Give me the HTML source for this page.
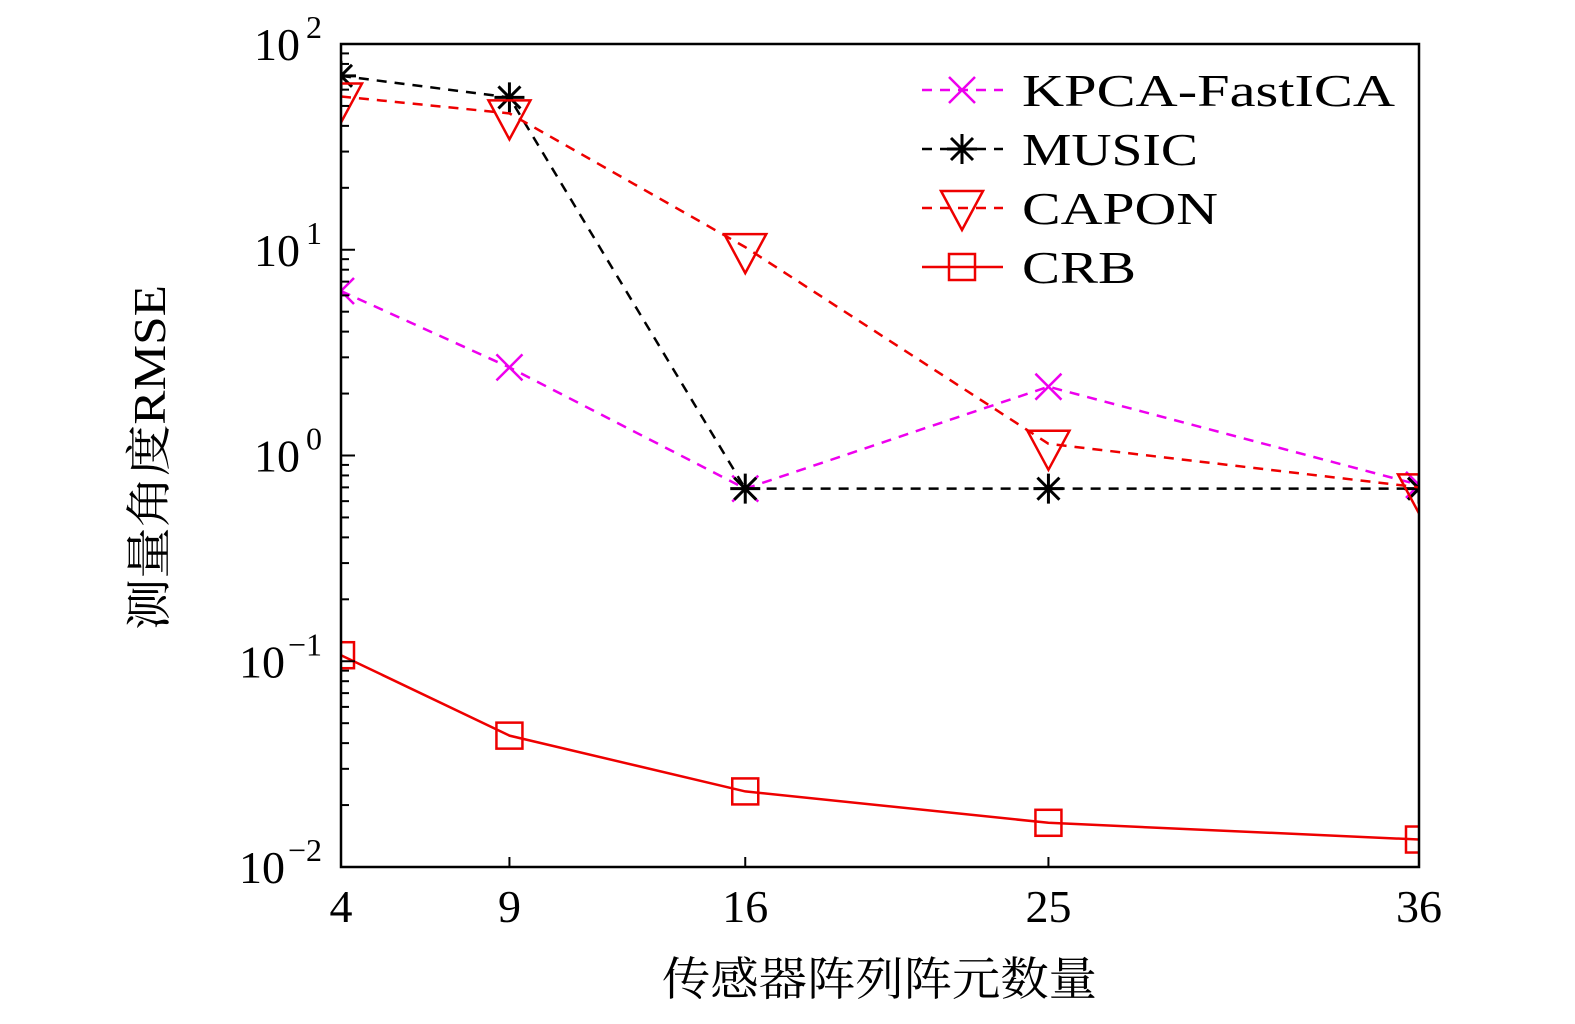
<!DOCTYPE html>
<html><head><meta charset="utf-8"><style>
html,body{margin:0;padding:0;background:#fff;}
svg{display:block;font-family:"Liberation Serif","Noto Serif CJK SC",serif;}
</style></head><body>
<svg id="chart" width="1575" height="1024" viewBox="0 0 1575 1024" xmlns="http://www.w3.org/2000/svg">
<defs><clipPath id="plotclip"><rect x="341" y="44" width="1078" height="823"/></clipPath></defs>
<g id="series" clip-path="url(#plotclip)"></g>
<rect x="341" y="44" width="1078" height="823" fill="none" stroke="#000" stroke-width="2.5"/>
<g id="axes"></g>
<text x="662" y="995" font-size="46" textLength="435" lengthAdjust="spacingAndGlyphs" font-family="Noto Serif CJK SC, serif">传感器阵列阵元数量</text>
<text transform="translate(165,630) rotate(-90)" font-size="46" textLength="345" lengthAdjust="spacingAndGlyphs"><tspan font-family="Noto Serif CJK SC, serif">测量角度</tspan>RMSE</text>
<g id="legend"></g>
</svg>
<script>
const categories = [4, 9, 16, 25, 36];
const kpcaValues = [6.3, 2.68, 0.69, 2.16, 0.72];
const musicValues = [70, 55, 0.69, 0.69, 0.69];
const caponValues = [55.6, 46, 10.3, 1.14, 0.70];
const crbValues = [0.107, 0.0435, 0.0233, 0.0164, 0.0136];
const yTickExps = [-2, -1, 0, 1, 2];
const seriesNames = ["KPCA-FastICA", "MUSIC", "CAPON", "CRB"];
const legendWidths = [373, 176, 196, 114];

const NS = "http://www.w3.org/2000/svg";
const L = 341, R = 1419, T = 44, B = 867;
const xMin = 4, xMax = 36, yMinE = -2, yMaxE = 2;
function xs(v){ return L + (v - xMin) / (xMax - xMin) * (R - L); }
function ys(v){ return B - (Math.log10(v) - yMinE) / (yMaxE - yMinE) * (B - T); }
function mk(tag, attrs, parent){ const e = document.createElementNS(NS, tag); for (const k in attrs) e.setAttribute(k, attrs[k]); parent.appendChild(e); return e; }

const axes = document.getElementById('axes');
categories.forEach(c => {
  const t = mk('line', {x1: xs(c), x2: xs(c), y1: B, y2: B - 10, stroke: '#000', 'stroke-width': 2}, axes);
  
  
  const lb = mk('text', {x: xs(c), y: 922, 'font-size': 46, 'text-anchor': 'middle'}, axes);
  lb.textContent = c;
  
  
});
yTickExps.forEach(e => {
  const y = ys(Math.pow(10, e));
  const t = mk('line', {x1: L, x2: L + 14, y1: y, y2: y, stroke: '#000', 'stroke-width': 2}, axes);
  
  
  const neg = e < 0;
  const lb = mk('text', {x: neg ? 285 : 300, y: y + 16, 'font-size': 46, 'text-anchor': 'end'}, axes);
  lb.textContent = '10';
  
  
  const sp = mk('text', {x: 322, y: y - 6, 'font-size': 32, 'text-anchor': 'end'}, axes);
  sp.textContent = neg ? '\u2212' + (-e) : String(e);
  
  
  if (e < yMaxE) for (let m = 2; m <= 9; m++) {
    const ym = ys(m * Math.pow(10, e));
    const mt = mk('line', {x1: L, x2: L + 8, y1: ym, y2: ym, stroke: '#000', 'stroke-width': 2}, axes);
    
    
  }
});

function marker(type, x, y, color, parent){
  const g = mk('g', {fill: 'none', stroke: color, 'stroke-width': 2.5}, parent);
  if (type === 'x') { const s = 13; mk('path', {d: `M${x-s},${y-s}L${x+s},${y+s}M${x-s},${y+s}L${x+s},${y-s}`}, g); }
  else if (type === 'star') { const s = 15; mk('path', {d: `M${x-s},${y}L${x+s},${y}M${x},${y-s}L${x},${y+s}M${x-11},${y-11}L${x+11},${y+11}M${x-11},${y+11}L${x+11},${y-11}`, 'stroke-width': 3}, g); }
  else if (type === 'tri') { mk('path', {d: `M${x-21},${y-13}L${x+21},${y-13}L${x},${y+26}Z`}, g); }
  else if (type === 'sq') { mk('rect', {x: x-13, y: y-13, width: 26, height: 26}, g); }
  return g;
}
const defs = [
  {vals: kpcaValues, color: '#ee00ee', m: 'x', dash: '10,8', name: 'kpca-fastica'},
  {vals: musicValues, color: '#000000', m: 'star', dash: '10,8', name: 'music'},
  {vals: caponValues, color: '#ee0000', m: 'tri', dash: '10,8', name: 'capon'},
  {vals: crbValues, color: '#ee0000', m: 'sq', dash: 'none', name: 'crb'}
];
const series = document.getElementById('series');
defs.forEach(d => {
  const g = mk('g', {}, series);
  
  
  const pts = categories.map((c, i) => xs(c) + ',' + ys(d.vals[i])).join(' ');
  const pl = mk('polyline', {points: pts, fill: 'none', stroke: d.color, 'stroke-width': 2.5, 'stroke-dasharray': d.dash}, g);
  
  
  categories.forEach((c, i) => {
    const mg = marker(d.m, xs(c), ys(d.vals[i]), d.color, g);
    
    
  });
});
const legend = document.getElementById('legend');
defs.forEach((d, i) => {
  const y = 90 + i * 59;
  const g = mk('g', {}, legend);
  
  
  mk('line', {x1: 922, x2: 1003, y1: y, y2: y, stroke: d.color, 'stroke-width': 2.5, 'stroke-dasharray': d.dash === 'none' ? 'none' : '10,8'}, g);
  marker(d.m, 962, d.m === 'tri' ? y - 4 : y, d.color, g);
  const t = mk('text', {x: 1022, y: y + 16, 'font-size': 46, textLength: legendWidths[i], lengthAdjust: 'spacingAndGlyphs'}, g);
  t.textContent = seriesNames[i];
});
</script>
</body></html>
